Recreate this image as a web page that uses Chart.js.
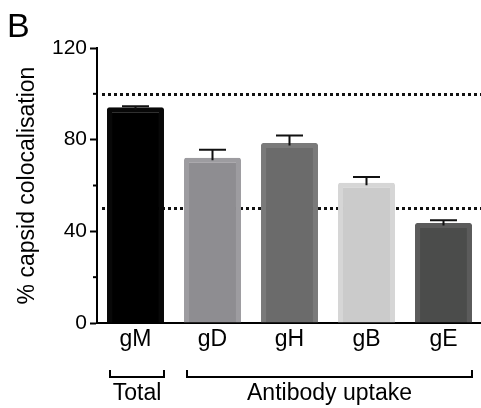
<!DOCTYPE html>
<html><head><meta charset="utf-8">
<script src="https://cdn.jsdelivr.net/npm/chart.js@4"></script>
<style>
html,body{margin:0;padding:0;background:#fff;overflow:hidden;}
#wrap{position:relative;width:482px;height:408px;}
#panel{position:absolute;left:7px;top:9px;font-family:"Liberation Sans",Arial,sans-serif;font-size:34px;line-height:33px;color:#000;}
</style></head><body>
<div id="wrap"><canvas id="c"></canvas><div id="panel">B</div></div>
<script>
const categories = ['gM', 'gD', 'gH', 'gB', 'gE'];
const means = [94.2, 72.1, 78.5, 61.2, 43.6];
const errors = [0.4, 3.5, 3.3, 2.5, 1.2];
const refLines = [100, 50];
const yLabelled = [0, 40, 80, 120];
const groupLabels = ['Total', 'Antibody uptake'];
const groupStart = [0, 1];
const groupEnd = [0, 4];

const FONT = '"Liberation Sans", Arial, sans-serif';
const fillColors = ['#000000', '#8e8d91', '#6b6b6b', '#cbcbcb', '#4b4c4b'];
const edgeColors = ['#080808', '#9d9ca0', '#7a7a7a', '#d6d6d6', '#5b5b5b'];

const refLinePlugin = {
  id: 'refLines',
  beforeDatasetsDraw(chart) {
    const {ctx, chartArea, scales: {y}} = chart;
    ctx.save();
    ctx.strokeStyle = '#111';
    ctx.lineWidth = 3;
    ctx.setLineDash([3, 3]);
    refLines.forEach(v => {
      const py = Math.round(y.getPixelForValue(v)) + 0.5;
      ctx.beginPath();
      ctx.moveTo(chartArea.left + 5, py);
      ctx.lineTo(chartArea.right, py);
      ctx.stroke();
    });
    ctx.restore();
  }
};

const errorBarPlugin = {
  id: 'errorBars',
  afterDatasetsDraw(chart) {
    const {ctx, scales: {y}} = chart;
    const meta = chart.getDatasetMeta(0);
    ctx.save();
    ctx.strokeStyle = '#111';
    ctx.lineWidth = 2;
    meta.data.forEach((el, i) => {
      const y0 = y.getPixelForValue(means[i]);
      const y1 = y.getPixelForValue(means[i] + errors[i]);
      ctx.beginPath();
      ctx.moveTo(el.x, y0 + 2.5);
      ctx.lineTo(el.x, y1);
      ctx.moveTo(el.x - 13.5, y1);
      ctx.lineTo(el.x + 13.5, y1);
      ctx.stroke();
    });
    ctx.restore();
  }
};

const extrasPlugin = {
  id: 'extras',
  afterDraw(chart) {
    const {ctx, chartArea, scales: {y}} = chart;
    const meta = chart.getDatasetMeta(0);
    ctx.save();
    ctx.strokeStyle = '#000';
    ctx.lineWidth = 2;
    y.ticks.forEach(t => {
      if (!yLabelled.includes(t.value)) {
        const py = y.getPixelForValue(t.value);
        ctx.beginPath();
        ctx.moveTo(chartArea.left - 4, py);
        ctx.lineTo(chartArea.left, py);
        ctx.stroke();
      }
    });
    const top = chartArea.bottom + 47;
    const bot = chartArea.bottom + 54;
    ctx.fillStyle = '#000';
    ctx.font = '23px ' + FONT;
    ctx.textAlign = 'center';
    ctx.textBaseline = 'alphabetic';
    groupLabels.forEach((lab, g) => {
      const a = meta.data[groupStart[g]], b = meta.data[groupEnd[g]];
      const xl = a.x - a.width / 2 + 3;
      const xr = b.x + b.width / 2;
      ctx.beginPath();
      ctx.moveTo(xl, top);
      ctx.lineTo(xl, bot);
      ctx.lineTo(xr, bot);
      ctx.lineTo(xr, top);
      ctx.stroke();
      ctx.fillText(lab, (xl + xr) / 2, chartArea.bottom + 77);
    });
    ctx.restore();
  }
};

new Chart(document.getElementById('c'), {
  type: 'bar',
  data: {
    labels: categories,
    datasets: [{
      data: means,
      backgroundColor: fillColors,
      borderColor: edgeColors,
      borderWidth: 5,
      borderSkipped: 'start',
      borderRadius: 2,
      categoryPercentage: 1,
      barPercentage: 0.74
    }]
  },
  options: {
    responsive: true,
    maintainAspectRatio: false,
    animation: false,
    devicePixelRatio: 1,
    layout: {padding: {top: 48, left: 0, right: 0, bottom: 0}},
    plugins: {legend: {display: false}, tooltip: {enabled: false}},
    scales: {
      x: {
        ticks: {font: {size: 23, family: FONT}, color: '#000', padding: 3},
        grid: {display: false, drawTicks: false},
        border: {display: true, color: '#000', width: 2},
        afterFit: s => { s.height = 85; }
      },
      y: {
        min: 0, max: 120,
        ticks: {
          stepSize: 20,
          callback: v => yLabelled.includes(v) ? String(v) : '',
          font: {size: 21, family: FONT}, color: '#000', padding: 3
        },
        grid: {
          drawOnChartArea: false, drawTicks: true, tickLength: 7, tickWidth: 2,
          tickColor: c => yLabelled.includes(c.tick.value) ? '#000' : 'rgba(0,0,0,0)'
        },
        border: {display: true, color: '#000', width: 2},
        title: {
          display: true, text: '% capsid colocalisation',
          font: {size: 23, family: FONT}, color: '#000',
          padding: {top: 13.5, bottom: 0}
        },
        afterFit: s => { s.width = 97; }
      }
    }
  },
  plugins: [refLinePlugin, errorBarPlugin, extrasPlugin]
});
</script>
</body></html>
